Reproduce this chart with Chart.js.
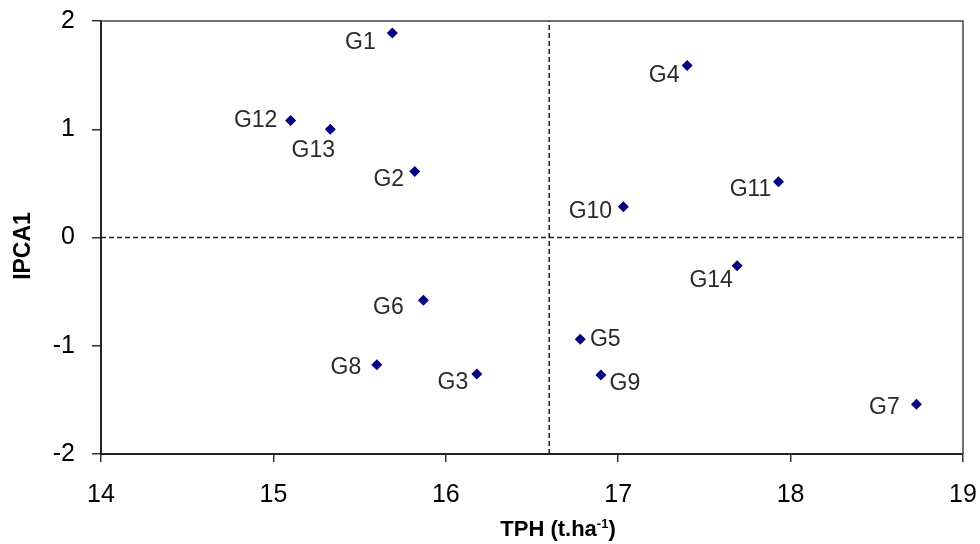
<!DOCTYPE html>
<html>
    <head>
        <title>IPCA1 vs TPH</title>
        <script src="https://cdn.jsdelivr.net/npm/chart.js"></script>
        <style>
            body { margin: 0; background: #fff; }
        </style>
    </head>
    <body>
        <canvas id="chart" width="980" height="544"></canvas>

        <script>
            // genotypes, yield (TPH) and first interaction PC score
            const genotypes = ['G1', 'G2', 'G3', 'G4', 'G5', 'G6', 'G7', 'G8', 'G9', 'G10', 'G11', 'G12', 'G13', 'G14']
            const tph = [15.69, 15.82, 16.18, 17.40, 16.78, 15.87, 18.73, 15.60, 16.90, 17.03, 17.93, 15.10, 15.33, 17.69]
            const ipca1 = [1.89, 0.61, -1.26, 1.59, -0.94, -0.58, -1.54, -1.175, -1.27, 0.285, 0.515, 1.08, 1.0, -0.26]

            // reference lines: grand mean of TPH and IPCA1 = 0
            const meanTph = 16.6
            const xTicks = [14, 15, 16, 17, 18, 19]
            const yTicks = [-2, -1, 0, 1, 2]

            // where each label sits relative to its point (px)
            const labelOffsets = {
                G1: [-32, 10], G2: [-26, 8], G3: [-24, 9], G4: [-23, 10], G5: [25, 0],
                G6: [-35, 7], G7: [-32, 3], G8: [-31, 3], G9: [24, 9], G10: [-33, 5],
                G11: [-28, 8], G12: [-35, 0], G13: [-17, 21], G14: [-26, 15],
            }

            const FONT = '"Liberation Sans", Arial, sans-serif'

            const pointLabels = {
                id: 'pointLabels',
                afterDatasetsDraw(chart) {
                    const ctx = chart.ctx
                    const meta = chart.getDatasetMeta(0)
                    ctx.save()
                    ctx.font = '23px ' + FONT
                    ctx.fillStyle = '#2a2a2a'
                    ctx.textAlign = 'center'
                    ctx.textBaseline = 'middle'
                    meta.data.forEach((pt, i) => {
                        const name = genotypes[i]
                        const [dx, dy] = labelOffsets[name]
                        ctx.fillText(name, pt.x + dx, pt.y + dy)
                    })
                    ctx.restore()
                },
            }

            const frame = {
                id: 'frame',
                afterDraw(chart) {
                    const { ctx, chartArea: a } = chart
                    ctx.save()
                    ctx.strokeStyle = '#444'
                    ctx.lineWidth = 1.5
                    ctx.beginPath()
                    ctx.moveTo(a.left, a.top)
                    ctx.lineTo(a.right, a.top)
                    ctx.lineTo(a.right, a.bottom)
                    ctx.stroke()

                    // axis titles
                    ctx.fillStyle = '#000'
                    ctx.textBaseline = 'middle'
                    ctx.save()
                    ctx.translate(24, 246)
                    ctx.rotate(-Math.PI / 2)
                    ctx.textAlign = 'center'
                    ctx.font = 'bold 23px ' + FONT
                    ctx.fillText('IPCA1', 0, 0)
                    ctx.restore()

                    const big = 'bold 22px ' + FONT
                    const small = 'bold 13px ' + FONT
                    ctx.font = big
                    const w1 = ctx.measureText('TPH (t.ha').width
                    const w3 = ctx.measureText(')').width
                    ctx.font = small
                    const w2 = ctx.measureText('-1').width
                    let x = 558 - (w1 + w2 + w3) / 2
                    const y = 530
                    ctx.textAlign = 'left'
                    ctx.font = big
                    ctx.fillText('TPH (t.ha', x, y)
                    x += w1
                    ctx.font = small
                    ctx.fillText('-1', x, y - 6)
                    x += w2
                    ctx.font = big
                    ctx.fillText(')', x, y)
                    ctx.restore()
                },
            }

            const dashed = {
                borderColor: '#222',
                borderWidth: 1.6,
                borderDash: [5, 3],
                pointRadius: 0,
                showLine: true,
                fill: false,
                order: 2,
            }

            const chart = new Chart('chart', {
                type: 'scatter',
                data: {
                    datasets: [
                        {
                            data: tph.map((x, i) => ({ x, y: ipca1[i] })),
                            backgroundColor: '#000080',
                            borderWidth: 0,
                            pointStyle: 'rectRot',
                            pointRadius: 5.5,
                            pointHoverRadius: 5.5,
                            order: 1,
                        },
                        {
                            ...dashed,
                            data: [{ x: xTicks[0], y: 0 }, { x: xTicks[xTicks.length - 1], y: 0 }],
                        },
                        {
                            ...dashed,
                            data: [{ x: meanTph, y: yTicks[0] }, { x: meanTph, y: yTicks[yTicks.length - 1] }],
                        },
                    ],
                },
                options: {
                    responsive: false,
                    devicePixelRatio: 1,
                    animation: false,
                    layout: { padding: { top: 21, right: 17, left: 0, bottom: 0 } },
                    plugins: {
                        legend: { display: false },
                        tooltip: { enabled: false },
                    },
                    scales: {
                        x: {
                            min: xTicks[0],
                            max: xTicks[xTicks.length - 1],
                            afterBuildTicks: (s) => { s.ticks = xTicks.map((v) => ({ value: v })) },
                            afterFit: (s) => {
                                s.height = 90
                                s.paddingLeft = 0
                                s.paddingRight = 0
                            },
                            ticks: {
                                font: { size: 25, family: FONT },
                                color: '#000',
                                padding: 18,
                                maxRotation: 0,
                            },
                            grid: {
                                drawOnChartArea: false,
                                drawTicks: true,
                                tickLength: 8,
                                color: '#333',
                                lineWidth: 1.5,
                            },
                            border: { display: true, color: '#222', width: 2 },
                        },
                        y: {
                            min: yTicks[0],
                            max: yTicks[yTicks.length - 1],
                            afterBuildTicks: (s) => { s.ticks = yTicks.map((v) => ({ value: v })) },
                            afterFit: (s) => {
                                s.width = 101
                                s.paddingTop = 0
                                s.paddingBottom = 0
                            },
                            ticks: {
                                font: { size: 25, family: FONT },
                                color: '#000',
                                padding: 17,
                            },
                            grid: {
                                drawOnChartArea: false,
                                drawTicks: true,
                                tickLength: 9,
                                color: '#333',
                                lineWidth: 1.5,
                            },
                            border: { display: true, color: '#222', width: 2 },
                        },
                    },
                },
                plugins: [pointLabels, frame],
            })
        </script>
    </body>
</html>
